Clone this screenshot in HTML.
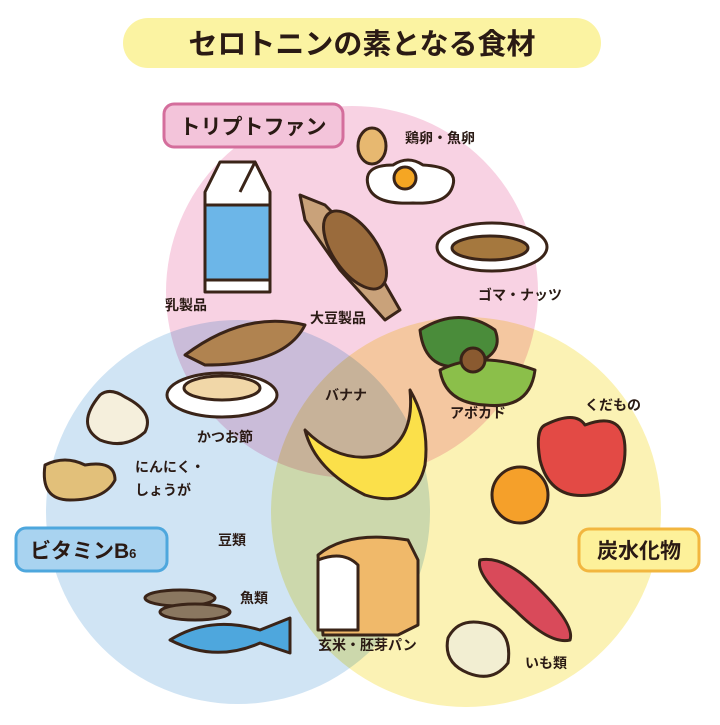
<!DOCTYPE html>
<html><head><meta charset="utf-8"><style>
html,body{margin:0;padding:0;background:#fff;}
svg text{font-family:"Liberation Sans","Noto Sans CJK JP",sans-serif;font-weight:bold;fill:#2a1a14;}
</style></head><body>
<svg width="720" height="720" viewBox="0 0 720 720" xmlns="http://www.w3.org/2000/svg">
<rect width="720" height="720" fill="#fff"/>
<g style="isolation:isolate">
<circle cx="352" cy="292" r="186" fill="#f8d2e3"/>
<circle cx="238" cy="512" r="192" fill="#d0e4f4" style="mix-blend-mode:multiply"/>
<circle cx="466" cy="512" r="195" fill="#fbf2b4" style="mix-blend-mode:multiply"/>
</g>
<rect x="123" y="18" width="478" height="50" rx="25" fill="#fbf3a2"/>
<text x="362" y="54" font-size="29" text-anchor="middle">セロトニンの素となる食材</text>
<rect x="164" y="104" width="179" height="43" rx="10" fill="#f3c4da" stroke="#d46e9c" stroke-width="3"/>
<text x="253" y="134" font-size="21" text-anchor="middle">トリプトファン</text>
<rect x="16" y="528" width="151" height="43" rx="10" fill="#a9d3f0" stroke="#4ea7dd" stroke-width="3"/>
<text x="30" y="558" font-size="21">ビタミンB<tspan font-size="13">6</tspan></text>
<rect x="579" y="529" width="120" height="42" rx="10" fill="#fdf19a" stroke="#f2b63f" stroke-width="3"/>
<text x="639" y="558" font-size="21" text-anchor="middle">炭水化物</text>
<g stroke="#3a2418" stroke-width="3" stroke-linejoin="round">
<ellipse cx="372" cy="146" rx="14" ry="18" fill="#e7b870"/>
<path d="M368 185 q-5-20 25-20 q15-10 30 0 q35 2 30 20 q-5 20-40 18 q-40 2-45-18z" fill="#fff"/>
<circle cx="405" cy="178" r="11" fill="#f5a623"/>
<path d="M205 192 l15-30 h35 l15 30 v100 h-65z" fill="#fff"/>
<rect x="205" y="205" width="65" height="75" fill="#6cb6e8"/>
<path d="M270 192 l-15-30 l-15 30" fill="#fff"/>
<path d="M300 195 l25 10 l35 35 l40 70 l-15 10 l-45-50 l-35-50z" fill="#c9a27a"/>
<ellipse cx="355" cy="250" rx="22" ry="45" transform="rotate(-35 355 250)" fill="#9a6b3c"/>
<ellipse cx="492" cy="247" rx="55" ry="24" fill="#fff"/>
<ellipse cx="490" cy="248" rx="38" ry="12" fill="#a5783e"/>
<path d="M420 330 q40-25 75 0 q10 25-25 35 q-45 10-50-35z" fill="#4a8c3a"/>
<path d="M440 370 q40-20 95 0 q-5 40-50 35 q-40-2-45-35z" fill="#8bbf4a"/>
<circle cx="473" cy="360" r="12" fill="#8a5a30"/>
<path d="M185 355 q60-45 120-30 q-20 40-100 40z" fill="#b08350"/>
<ellipse cx="222" cy="395" rx="55" ry="22" fill="#fff"/>
<ellipse cx="222" cy="388" rx="38" ry="12" fill="#f1d7a8"/>
<path d="M100 395 q-25 30 0 45 q25 10 45-8 q10-20-20-35 q-15-10-25-2z" fill="#f5efdc"/>
<path d="M45 465 q20-10 40 0 q30-5 30 15 q-10 20-45 20 q-30 0-25-35z" fill="#e2c07a"/>
<path d="M305 430 q10 40 60 65 q50 15 60-30 q5-40-15-75 q5 50-30 65 q-40 10-75-25z" fill="#fbe04a"/>
<path d="M545 425 q30-15 40 0 q40-15 40 25 q0 40-35 45 q-40 5-50-35 q-5-30 5-35z" fill="#e34a45"/>
<circle cx="520" cy="495" r="28" fill="#f5a02a"/>
<path d="M318 555 q30-25 90-15 l10 20 v65 l-20 10 l-75 0z" fill="#f0b96a"/>
<path d="M318 560 q25-10 40 5 v65 h-40z" fill="#fff"/>
<path d="M480 560 q25-5 60 30 q35 35 30 50 q-20 5-55-30 q-40-35-35-50z" fill="#d94a5a"/>
<path d="M448 638 q10-20 35-15 q30 5 25 40 q-15 20-40 10 q-25-10-20-35z" fill="#f2eed2"/>
<ellipse cx="180" cy="598" rx="35" ry="8" fill="#8a7760"/>
<ellipse cx="195" cy="612" rx="35" ry="8" fill="#8a7760"/>
<path d="M170 640 q40-25 90-10 l30-12 v35 l-30-10 q-45 20-90-3z" fill="#4ea7dd"/>
</g>
<g font-size="14">
<text x="405" y="143">鶏卵・魚卵</text>
<text x="165" y="310">乳製品</text>
<text x="310" y="323">大豆製品</text>
<text x="478" y="300">ゴマ・ナッツ</text>
<text x="325" y="400">バナナ</text>
<text x="450" y="418">アボカド</text>
<text x="585" y="410">くだもの</text>
<text x="197" y="442">かつお節</text>
<text x="135" y="472">にんにく・</text>
<text x="135" y="495">しょうが</text>
<text x="218" y="545">豆類</text>
<text x="240" y="603">魚類</text>
<text x="318" y="650">玄米・胚芽パン</text>
<text x="525" y="668">いも類</text>
</g>
</svg>
</body></html>
